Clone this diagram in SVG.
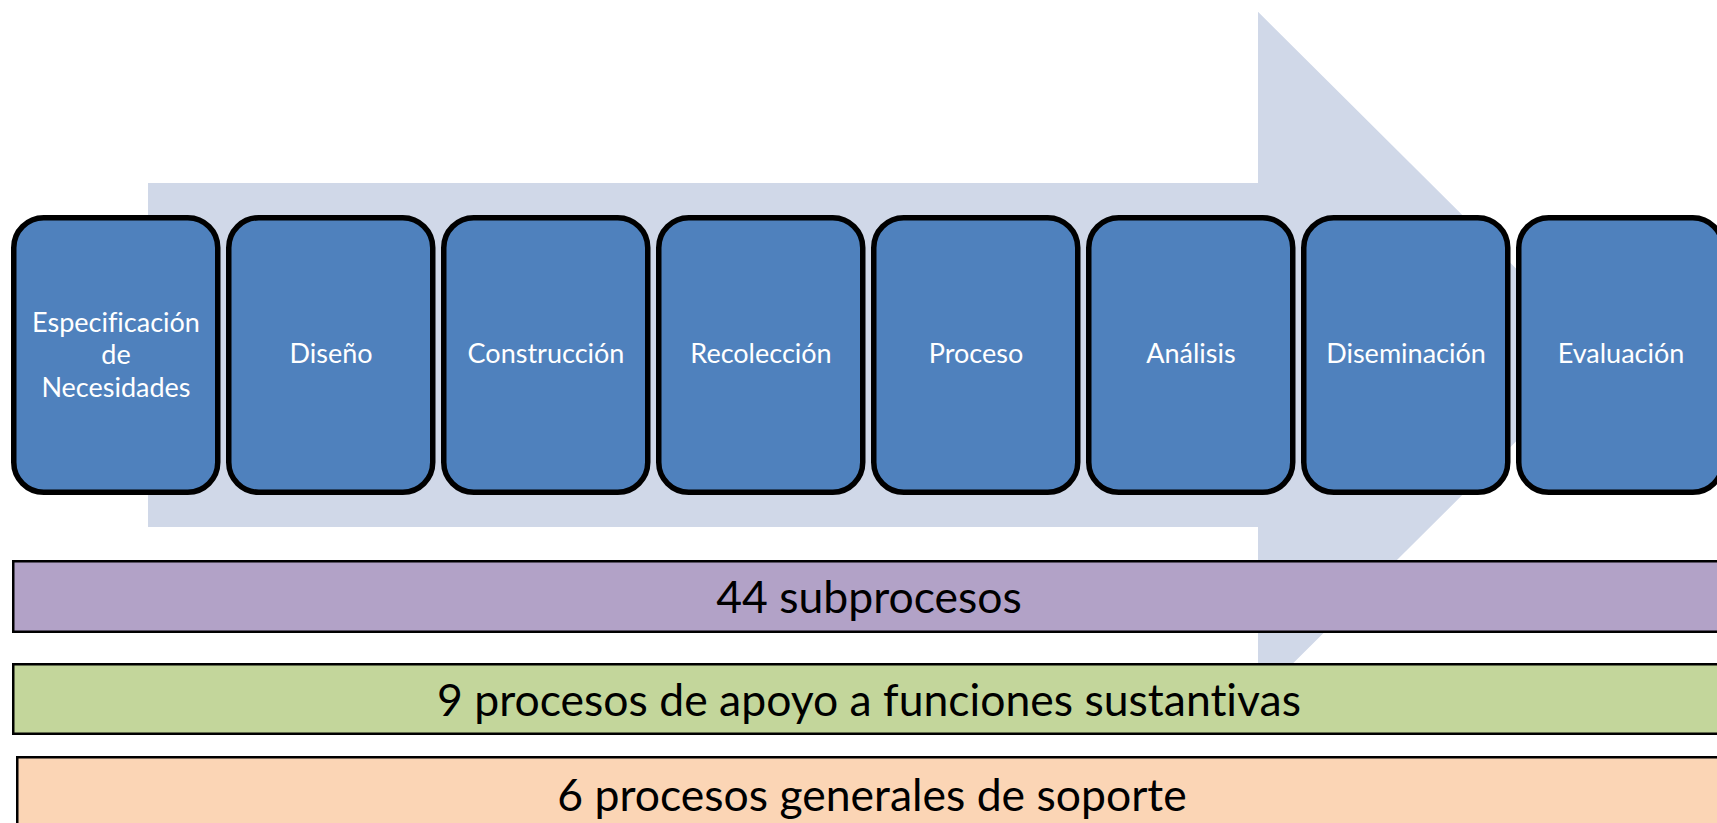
<svg xmlns="http://www.w3.org/2000/svg" width="1717" height="823" viewBox="0 0 1717 823">
<style>
.box{fill:#4F81BD;stroke:#000;stroke-width:5.5}
.lbl{font-family:Lato,"Open Sans","Liberation Sans",sans-serif;font-size:27px;fill:#fff;text-anchor:middle;font-variant-ligatures:none}
.bar{stroke:#000;stroke-width:2.5}
.btxt{font-family:Lato,"Open Sans","Liberation Sans",sans-serif;font-size:44.5px;fill:#000;text-anchor:middle;font-variant-ligatures:none}
</style>
<rect width="1717" height="823" fill="#fff"/>
<g id="arrow"><polygon points="148,183 1258,183 1258,11.7 1603,355 1258,698.3 1258,527 148,527" fill="#D0D8E8"/></g>
<g id="connectors"></g>
<g id="n1"><rect class="box" x="13.75" y="217.75" width="204" height="274.5" rx="30"/><text class="lbl" x="116" y="331.5">Especificación</text><text class="lbl" x="116" y="364">de</text><text class="lbl" x="116" y="396.5">Necesidades</text></g>
<g id="n2"><rect class="box" x="228.75" y="217.75" width="204" height="274.5" rx="30"/><text class="lbl" x="331" y="363">Diseño</text></g>
<g id="n3"><rect class="box" x="443.75" y="217.75" width="204" height="274.5" rx="30"/><text class="lbl" x="546" y="363">Construcción</text></g>
<g id="n4"><rect class="box" x="658.75" y="217.75" width="204" height="274.5" rx="30"/><text class="lbl" x="761" y="363">Recolección</text></g>
<g id="n5"><rect class="box" x="873.75" y="217.75" width="204" height="274.5" rx="30"/><text class="lbl" x="976" y="363">Proceso</text></g>
<g id="n6"><rect class="box" x="1088.75" y="217.75" width="204" height="274.5" rx="30"/><text class="lbl" x="1191" y="363">Análisis</text></g>
<g id="n7"><rect class="box" x="1303.75" y="217.75" width="204" height="274.5" rx="30"/><text class="lbl" x="1406" y="363">Diseminación</text></g>
<g id="n8"><rect class="box" x="1518.75" y="217.75" width="204" height="274.5" rx="30"/><text class="lbl" x="1621" y="363">Evaluación</text></g>
<g id="b1"><rect class="bar" x="13.25" y="561.25" width="1714" height="70.5" fill="#B2A2C7"/><text class="btxt" x="869" y="613">44 subprocesos</text></g>
<g id="b2"><rect class="bar" x="13.25" y="664.25" width="1714" height="69.5" fill="#C3D69B"/><text class="btxt" x="869" y="716">9 procesos de apoyo a funciones sustantivas</text></g>
<g id="b3"><rect class="bar" x="17.25" y="757.25" width="1714" height="80" fill="#FBD5B5"/><text class="btxt" x="872" y="811">6 procesos generales de soporte</text></g>
</svg>
